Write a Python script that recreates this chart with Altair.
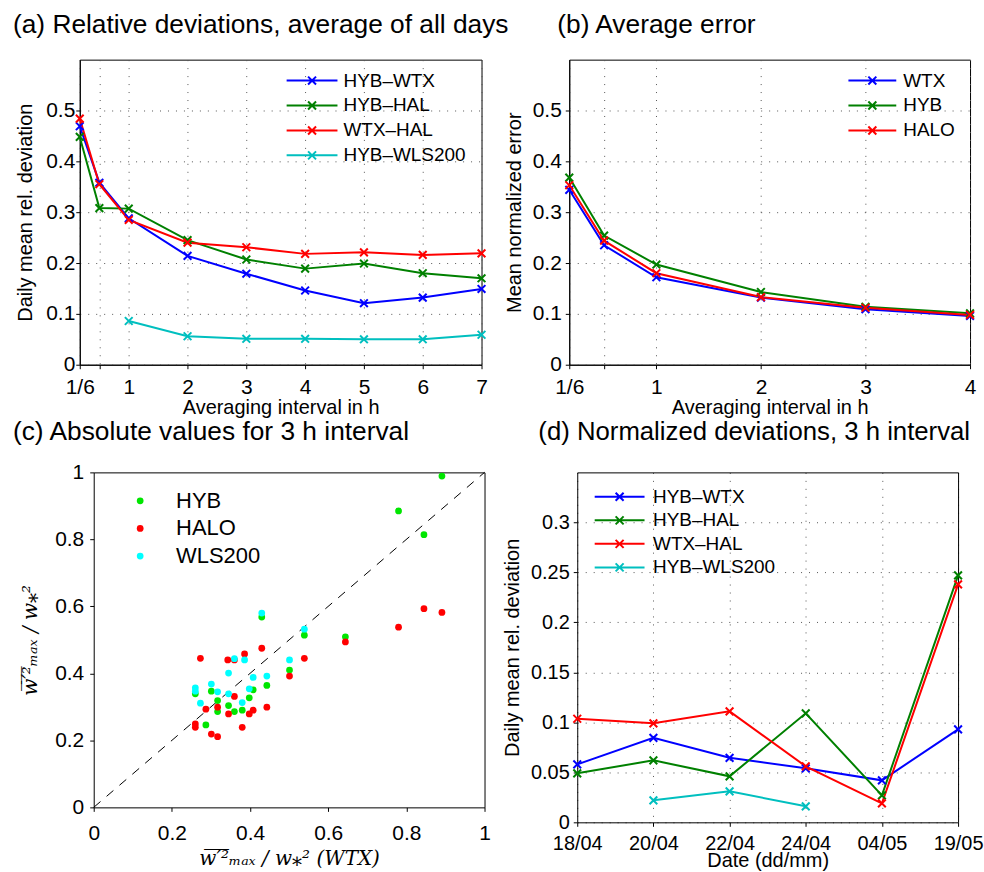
import math
import altair as alt
import pandas as pd

# ---------------- data ----------------
# (a) relative deviations vs averaging interval
hours_a = [1/6, 0.5, 1, 2, 3, 4, 5, 6, 7]
a_hyb_wtx = [0.469, 0.358, 0.288, 0.214, 0.179, 0.146, 0.121, 0.132, 0.149]
a_hyb_hal = [0.448, 0.308, 0.307, 0.245, 0.207, 0.189, 0.199, 0.180, 0.170]
a_wtx_hal = [0.484, 0.355, 0.285, 0.240, 0.231, 0.218, 0.221, 0.216, 0.219]
a_hyb_wls = [None, None, 0.086, 0.056, 0.051, 0.051, 0.050, 0.050, 0.059]
pair_names = ["HYB\u2013WTX", "HYB\u2013HAL", "WTX\u2013HAL", "HYB\u2013WLS200"]
pair_colors = ["#0000ff", "#008000", "#ff0000", "#00bfbf"]

# (b) average error
hours_b = [1/6, 0.5, 1, 2, 3, 4]
b_wtx = [0.344, 0.235, 0.172, 0.132, 0.109, 0.096]
b_hyb = [0.368, 0.254, 0.197, 0.143, 0.114, 0.101]
b_halo = [0.353, 0.244, 0.180, 0.133, 0.112, 0.098]
inst_names = ["WTX", "HYB", "HALO"]
inst_colors = ["#0000ff", "#008000", "#ff0000"]

# (c) absolute values, 3 h interval
c_hyb_x = [0.891, 0.780, 0.845, 0.430, 0.539, 0.644, 0.501, 0.443, 0.408, 0.398,
           0.301, 0.317, 0.317, 0.260, 0.287, 0.345, 0.360, 0.380]
c_hyb_y = [0.989, 0.885, 0.814, 0.568, 0.514, 0.509, 0.410, 0.364, 0.351, 0.327,
           0.347, 0.319, 0.286, 0.339, 0.246, 0.304, 0.286, 0.290]
c_halo_x = [0.845, 0.891, 0.780, 0.644, 0.539, 0.501, 0.430, 0.443, 0.386, 0.360,
            0.343, 0.273, 0.360, 0.408, 0.398, 0.380, 0.345, 0.317, 0.287, 0.317,
            0.301, 0.260, 0.260]
c_halo_y = [0.593, 0.582, 0.538, 0.494, 0.445, 0.392, 0.475, 0.299, 0.458, 0.440,
            0.440, 0.445, 0.331, 0.290, 0.279, 0.239, 0.279, 0.299, 0.293, 0.211,
            0.219, 0.249, 0.239]
c_wls_x = [0.430, 0.539, 0.501, 0.443, 0.408, 0.398, 0.386, 0.360, 0.345, 0.345,
           0.380, 0.317, 0.301, 0.273, 0.260, 0.260]
c_wls_y = [0.580, 0.532, 0.440, 0.392, 0.388, 0.354, 0.440, 0.444, 0.401, 0.339,
           0.313, 0.345, 0.368, 0.311, 0.357, 0.347]
scat_names = ["HYB", "HALO", "WLS200"]
scat_colors = ["#00e600", "#ff0000", "#00ffff"]
diag_vals = [0, 1]

# (d) normalized deviations per day
dates = ["18/04", "20/04", "22/04", "24/04", "04/05", "19/05"]
d_hyb_wtx = [0.058, 0.0845, 0.0645, 0.054, 0.042, 0.093]
d_hyb_hal = [0.049, 0.062, 0.046, 0.109, 0.027, 0.247]
d_wtx_hal = [0.1036, 0.099, 0.111, 0.056, 0.019, 0.238]
d_hyb_wls = [None, 0.022, 0.031, 0.016, None, None]

# ---------------- tables ----------------
def long_table(xs, series, names, key):
    rows = []
    for name, vals in zip(names, series):
        for x, v in zip(xs, vals):
            if v is not None:
                rows.append({"x": x, "v": v, key: name})
    return pd.DataFrame(rows)

df_a = long_table(hours_a, [a_hyb_wtx, a_hyb_hal, a_wtx_hal, a_hyb_wls], pair_names, "sa")
df_b = long_table(hours_b, [b_wtx, b_hyb, b_halo], inst_names, "sb")
df_d = long_table(list(range(len(dates))), [d_hyb_wtx, d_hyb_hal, d_wtx_hal, d_hyb_wls],
                  pair_names, "sd")
rows_c = []
for name, xs, ys in zip(scat_names, [c_hyb_x, c_halo_x, c_wls_x], [c_hyb_y, c_halo_y, c_wls_y]):
    for x, y in zip(xs, ys):
        rows_c.append({"x": x, "y": y, "sc": name})
df_c = pd.DataFrame(rows_c)
df_diag = pd.DataFrame({"x": diag_vals, "y": diag_vals})

# ---------------- styling helpers ----------------
FONT = "Liberation Sans"
XPATH = "M-1,-1L1,1M-1,1L1,-1"
LEG_SIZE = 72

def legend_path(length, half_x=4.0, size=LEG_SIZE):
    s = math.sqrt(size) / 2
    a = length / 2 / s
    b = half_x / s
    return (f"M{-a:.3f},0L{a:.3f},0"
            f"M{-b:.3f},{-b:.3f}L{b:.3f},{b:.3f}"
            f"M{-b:.3f},{b:.3f}L{b:.3f},{-b:.3f}")

def title(text, dx, offset, size=26.4):
    return alt.TitleParams(text=text, anchor="start", frame="group", dx=dx, offset=offset,
                           baseline="alphabetic", fontSize=size, fontWeight="normal",
                           font=FONT, color="black")

def line_legend(lx, ly, length, label_offset, row_pad, font_size):
    return alt.Legend(title=None, orient="none", legendX=lx, legendY=ly,
                      symbolType=legend_path(length), symbolSize=LEG_SIZE,
                      symbolStrokeWidth=2, symbolFillColor="transparent",
                      labelFontSize=font_size, labelFont=FONT, labelColor="black",
                      labelOffset=label_offset, rowPadding=row_pad, padding=0)

# frame-only axes (top / right) used for the boxed panels (c) and (d)
FRAME_AXIS_X = alt.Axis(orient="top", labels=False, ticks=False, grid=False, title=None,
                        domainColor="black")
FRAME_AXIS_Y = alt.Axis(orient="right", labels=False, ticks=False, grid=False, title=None,
                        domainColor="black")

POINT = alt.OverlayMarkDef(shape=XPATH, filled=False, size=60, strokeWidth=2)
hour_label = "datum.value < 0.2 ? '1/6' : (datum.value == 0.5 ? '' : format(datum.value, 'd'))"

# ---------------- panel (a) ----------------
chart_a = alt.Chart(df_a).mark_line(strokeWidth=2, point=POINT).encode(
    x=alt.X("x:Q", scale=alt.Scale(domain=[1/6, 7], nice=False, zero=False),
            axis=alt.Axis(values=hours_a, labelExpr=hour_label, title="Averaging interval in h",
                          titleY=43, titleBaseline="middle", labelPadding=8, labelFontSize=21)),
    y=alt.Y("v:Q", scale=alt.Scale(domain=[0, 0.6], nice=False),
            axis=alt.Axis(values=[0, 0.1, 0.2, 0.3, 0.4, 0.5], format="~g",
                          title="Daily mean rel. deviation", titleX=-54, titleBaseline="middle",
                          labelPadding=1, labelFontSize=21)),
    color=alt.Color("sa:N", scale=alt.Scale(domain=pair_names, range=pair_colors),
                    legend=line_legend(223.5, 11.5, 51, 22, 5, 19)),
).properties(width=403, height=306,
             title=title("(a) Relative deviations, average of all days", -67, 0.5))

# ---------------- panel (b) ----------------
chart_b = alt.Chart(df_b).mark_line(strokeWidth=2, point=POINT).encode(
    x=alt.X("x:Q", scale=alt.Scale(domain=[1/6, 4], nice=False, zero=False),
            axis=alt.Axis(values=hours_b, labelExpr=hour_label, title="Averaging interval in h",
                          titleY=43, titleBaseline="middle", labelPadding=8, labelFontSize=21)),
    y=alt.Y("v:Q", scale=alt.Scale(domain=[0, 0.6], nice=False),
            axis=alt.Axis(values=[0, 0.1, 0.2, 0.3, 0.4, 0.5], format="~g",
                          title="Mean normalized error", titleX=-55, titleBaseline="middle",
                          labelPadding=4, labelFontSize=21)),
    color=alt.Color("sb:N", scale=alt.Scale(domain=inst_names, range=inst_colors),
                    legend=line_legend(294.5, 11.5, 48, 21.5, 5, 19)),
).properties(width=402, height=306, title=title("(b) Average error", -12, 0.5))

# ---------------- panel (c) ----------------
# group spans 406 px; the plotted box starts 14 px in
C_SHIFT = 14
C_W = 406
math_y = "w\u0305\u2032\u0305\u00b2\u0305\u2098\u2090\u2093 / w\u204e\u00b2"
math_x = math_y + " (WTX)"
xs_c = alt.Scale(domain=[0, 1], nice=False, range=[C_SHIFT, C_W])
ys_c = alt.Scale(domain=[0, 1], nice=False)
diag = alt.Chart(df_diag).mark_line(color="black", strokeWidth=1, strokeDash=[9, 8]).encode(
    x=alt.X("x:Q", scale=xs_c, axis=FRAME_AXIS_X),
    y=alt.Y("y:Q", scale=ys_c, axis=FRAME_AXIS_Y))
scat = alt.Chart(df_c).mark_circle(size=46, opacity=1).encode(
    x=alt.X("x:Q", scale=xs_c,
            axis=alt.Axis(orient="bottom", values=[0, 0.2, 0.4, 0.6, 0.8, 1], format="~g",
                          title=math_x, titleY=51, titleBaseline="middle",
                          titleFont="DejaVu Serif", titleFontStyle="italic", titleFontSize=20,
                          labelPadding=11, labelFontSize=21)),
    y=alt.Y("y:Q", scale=ys_c,
            axis=alt.Axis(orient="left", offset=-C_SHIFT, values=[0, 0.2, 0.4, 0.6, 0.8, 1],
                          format="~g", title=math_y, titleX=-63, titleBaseline="middle",
                          titleFont="DejaVu Serif", titleFontStyle="italic", titleFontSize=20,
                          labelPadding=6, labelFontSize=21)),
    color=alt.Color("sc:N", scale=alt.Scale(domain=scat_names, range=scat_colors),
                    legend=alt.Legend(title=None, orient="none", legendX=49.6, legendY=17.5,
                                      symbolType="circle", symbolSize=46, symbolStrokeWidth=0,
                                      labelFontSize=22, labelFont=FONT, labelColor="black",
                                      labelOffset=25, rowPadding=5.7, padding=0)),
)
chart_c = alt.layer(diag, scat).resolve_axis(x="independent", y="independent").properties(
    width=C_W, height=336, view=alt.ViewBackground(stroke="transparent"),
    title=title("(c) Absolute values for 3 h interval", -67, -5))

# ---------------- panel (d) ----------------
D_SHIFT = 8
D_W = 390
date_expr = "[" + ",".join(f"'{d}'" for d in dates) + "][datum.value]"
xs_d = alt.Scale(domain=[0, len(dates) - 1], nice=False, range=[D_SHIFT, D_W])
ys_d = alt.Scale(domain=[0, 0.35], nice=False)
lines_d = alt.Chart(df_d).mark_line(strokeWidth=2, point=POINT).encode(
    x=alt.X("x:Q", scale=xs_d,
            axis=alt.Axis(orient="bottom", values=list(range(len(dates))), labelExpr=date_expr,
                          title="Date (dd/mm)", titleY=38, titleBaseline="middle",
                          labelPadding=7, labelFontSize=20)),
    y=alt.Y("v:Q", scale=ys_d,
            axis=alt.Axis(orient="left", offset=-D_SHIFT,
                          values=[0, 0.05, 0.1, 0.15, 0.2, 0.25, 0.3], format="~g",
                          title="Daily mean rel. deviation", titleX=-65, titleBaseline="middle",
                          labelPadding=4, labelFontSize=20)),
    color=alt.Color("sd:N", scale=alt.Scale(domain=pair_names, range=pair_colors),
                    legend=line_legend(41, 15, 50, 24, 3.6, 19)),
)
frame_d = alt.Chart(df_d).mark_point(opacity=0).encode(
    x=alt.X("x:Q", scale=xs_d, axis=FRAME_AXIS_X),
    y=alt.Y("v:Q", scale=ys_d, axis=FRAME_AXIS_Y))
chart_d = alt.layer(lines_d, frame_d).resolve_axis(x="independent", y="independent").properties(
    width=D_W, height=351, view=alt.ViewBackground(stroke="transparent"),
    title=title("(d) Normalized deviations, 3 h interval", -31, 6.6, size=25.8))

chart = alt.concat(
    chart_a, chart_b, chart_c, chart_d,
    columns=2, align="each", bounds="flush", spacing={"row": 108, "column": 85},
).resolve_scale(
    color="independent", x="independent", y="independent"
).resolve_legend(
    color="independent"
).properties(
    padding={"left": 12, "top": 9.5, "right": 0, "bottom": 0},
    background="white",
).configure_view(
    stroke="black", strokeWidth=1
).configure_axis(
    grid=True, gridColor="#555555", gridDash=[1, 7], gridWidth=1,
    domainColor="black", tickColor="black", tickSize=4,
    labelColor="black", titleColor="black", labelFont=FONT, titleFont=FONT,
    titleFontSize=20, titleFontWeight="normal", labelFlush=False, labelOverlap=False,
).configure_legend(
    labelLimit=400,
)

chart.save("out.html", embed_options={"renderer": "svg", "actions": False})
